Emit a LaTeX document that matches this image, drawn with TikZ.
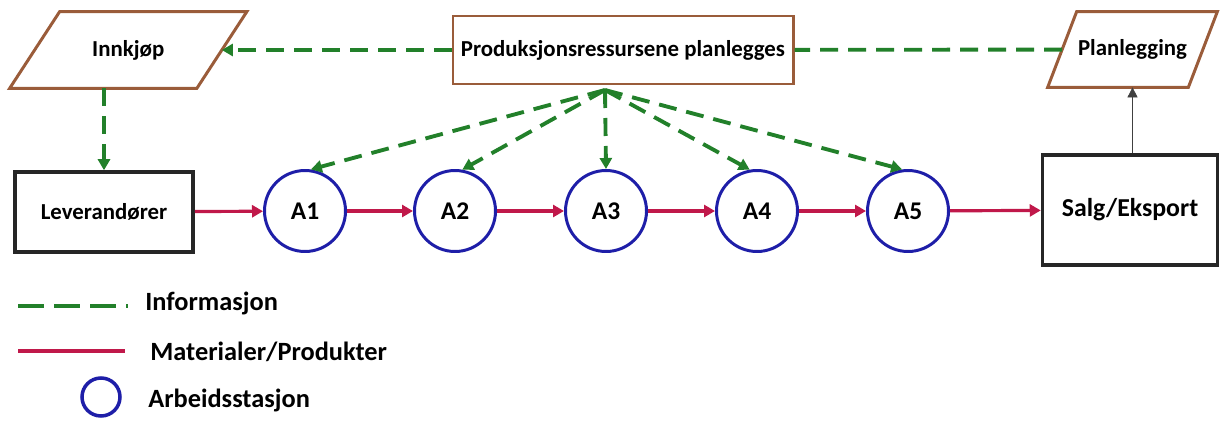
\documentclass[tikz,border=0pt]{standalone}
\usepackage{fontspec}
\setmainfont{Carlito}
\usepackage{xcolor}
\usepackage{tikz}
\usetikzlibrary{arrows.meta,calc,positioning}
\definecolor{infogreen}{HTML}{22802A}
\definecolor{matred}{HTML}{C0184A}
\definecolor{stationblue}{HTML}{1E1EA8}
\definecolor{planbrown}{HTML}{9A5C3A}
\tikzset{
  planpara/.style={rectangle,inner sep=2pt,font=\bfseries\fontsize{13}{15}\selectfont},
  paraline/.style={draw=planbrown,line width=1.7pt,line join=miter},
  planbox/.style={rectangle,draw=planbrown,line width=1.7pt,minimum width=6.8cm,
    minimum height=1.36cm,font=\bfseries\fontsize{13}{15}\selectfont},
  actor/.style={rectangle,draw=black!85,line width=2pt,align=center},
  station/.style={circle,draw=stationblue,line width=1.7pt,minimum size=1.62cm,inner sep=0pt,
    font=\bfseries\fontsize{14.5}{17}\selectfont},
  infoarrow/.style={-{Triangle[length=2.2mm,width=2.4mm]},line width=2.2pt,draw=infogreen,
    dash pattern=on 0.36cm off 0.2cm},
  infoline/.style={line width=2.2pt,draw=infogreen,dash pattern=on 0.36cm off 0.2cm},
  matarrow/.style={-{Triangle[length=2.2mm,width=2.4mm]},line width=1.8pt,draw=matred},
  legendtext/.style={anchor=west,inner sep=0pt,font=\bfseries\fontsize{15}{17}\selectfont}
}
\begin{document}
\begin{tikzpicture}
\useasboundingbox (0,0) rectangle (24.42,8.42);
% top row: planning
\node[planpara,minimum width=3.73cm,minimum height=1.52cm] (innkjop) at (2.565,7.42) {Innkjøp};
\draw[paraline] ($(innkjop.south west)+(-0.5,0)$) -- ($(innkjop.south east)+(-0.5,0)$)
  -- ($(innkjop.north east)+(0.5,0)$) -- ($(innkjop.north west)+(0.5,0)$) -- cycle;
\node[planbox] (prod) at (12.46,7.42) {Produksjonsressursene planlegges};
\node[planpara,minimum width=2.8cm,minimum height=1.5cm] (plan) at (22.65,7.43) {Planlegging};
\draw[paraline] ($(plan.south west)+(-0.29,0)$) -- ($(plan.south east)+(-0.29,0)$)
  -- ($(plan.north east)+(0.29,0)$) -- ($(plan.north west)+(0.29,0)$) -- cycle;
\coordinate (fan) at (12.1,6.62);
% material flow
\node[actor,minimum width=3.56cm,minimum height=1.6cm,font=\bfseries\fontsize{13}{15}\selectfont] (lev) at (2.08,4.18) {Leverandører};
\node[station] (a1) at (6.1,4.2) {A1};
\node[station] (a2) at (9.1,4.2) {A2};
\node[station] (a3) at (12.12,4.2) {A3};
\node[station] (a4) at (15.14,4.2) {A4};
\node[station] (a5) at (18.16,4.2) {A5};
\node[actor,minimum width=3.5cm,minimum height=2.2cm,font=\bfseries\fontsize{14.7}{17}\selectfont] (salg) at (22.6,4.22) {Salg/Eksport};
% information
\draw[infoarrow] (prod) -- (innkjop);
\draw[infoline] (plan) -- (prod);
\draw[infoarrow] (innkjop.south -| lev.north) -- (lev.north);
\draw[infoarrow] (fan) -- (a1.82);
\draw[infoarrow] (fan) -- (a2.80);
\draw[infoarrow] (fan) -- (a3.north);
\draw[infoarrow] (fan) -- (a4.100);
\draw[infoarrow] (fan) -- (a5.98);
\draw[-{Triangle[length=2mm,width=2mm]},thin,draw=black!75] (salg.north -| plan.south) -- (plan.south);
% materials
\draw[matarrow] (lev) -- (a1);
\draw[matarrow] (a1) -- (a2);
\draw[matarrow] (a2) -- (a3);
\draw[matarrow] (a3) -- (a4);
\draw[matarrow] (a4) -- (a5);
\draw[matarrow] (a5) -- (salg);
% legend
\coordinate (infoA) at (0.36,2.3);
\coordinate (infoB) at (2.56,2.3);
\draw[line width=2.2pt,draw=infogreen,dash pattern=on 0.52cm off 0.2cm] (infoA) -- (infoB);
\node[legendtext] (infotext) at (2.9,2.36) {Informasjon};
\coordinate (matA) at (0.36,1.4);
\coordinate (matB) at (2.5,1.4);
\draw[line width=2.2pt,draw=matred] (matA) -- (matB);
\node[legendtext] (mattext) at (3.0,1.38) {Materialer/Produkter};
\node[circle,draw=stationblue,line width=2pt,minimum size=0.76cm,inner sep=0pt] (legcircle) at (2.02,0.48) {};
\node[legendtext] (stationtext) at (2.96,0.42) {Arbeidsstasjon};
\end{tikzpicture}
\end{document}
